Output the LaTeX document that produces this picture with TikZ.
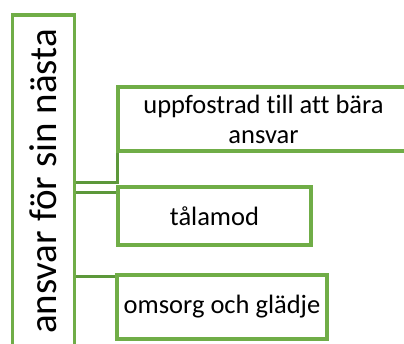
\documentclass[tikz,border=0pt]{standalone}
\usepackage{fontspec}
\setmainfont[Ligatures={NoCommon}]{Carlito}
\definecolor{boxgreen}{RGB}{112,173,71}
\definecolor{linegreen}{RGB}{92,152,58}
\tikzset{
  box/.style={draw=boxgreen, line width=3.4pt, fill=white, inner sep=0pt, align=center,
    font=\fontsize{26.5}{30}\selectfont},
  bigbox/.style={draw=boxgreen, line width=3.4pt, fill=white, inner sep=0pt, rotate=90,
    font=\fontsize{39}{44}\selectfont},
  conn/.style={draw=linegreen, line width=3pt}
}
\begin{document}
\begin{tikzpicture}[x=1pt,y=-1pt]
\useasboundingbox (0,0) rectangle (404,343);
\clip (0,0) rectangle (404,343);
\fill[white] (0,0) rectangle (404,343);
% named free ends of the connectors
\coordinate (k1) at (117,182);
\coordinate (k2) at (117,192);
\coordinate (k3) at (117,276);
% left box
\node[bigbox, minimum width=333pt, minimum height=62pt] (L) at (43.5,181.5) {ansvar för sin nästa};
% connectors
\draw[conn] (k1 -| L.south) -- (k1) -- (117,118);
\draw[conn] (k2 -| L.south) -- (k2) -- (117,216);
\draw[conn] (k3 -| L.south) -- (k3) -- (117,307);
% children
\node[box, minimum width=291pt, minimum height=64pt] (B1) at (263.5,119) {uppfostrad till att bära\\ansvar};
\node[box, minimum width=193pt, minimum height=58pt] (B2) at (214.5,216) {tålamod};
\node[box, minimum width=210pt, minimum height=64pt] (B3) at (222,307) {omsorg och glädje};
\end{tikzpicture}
\end{document}
